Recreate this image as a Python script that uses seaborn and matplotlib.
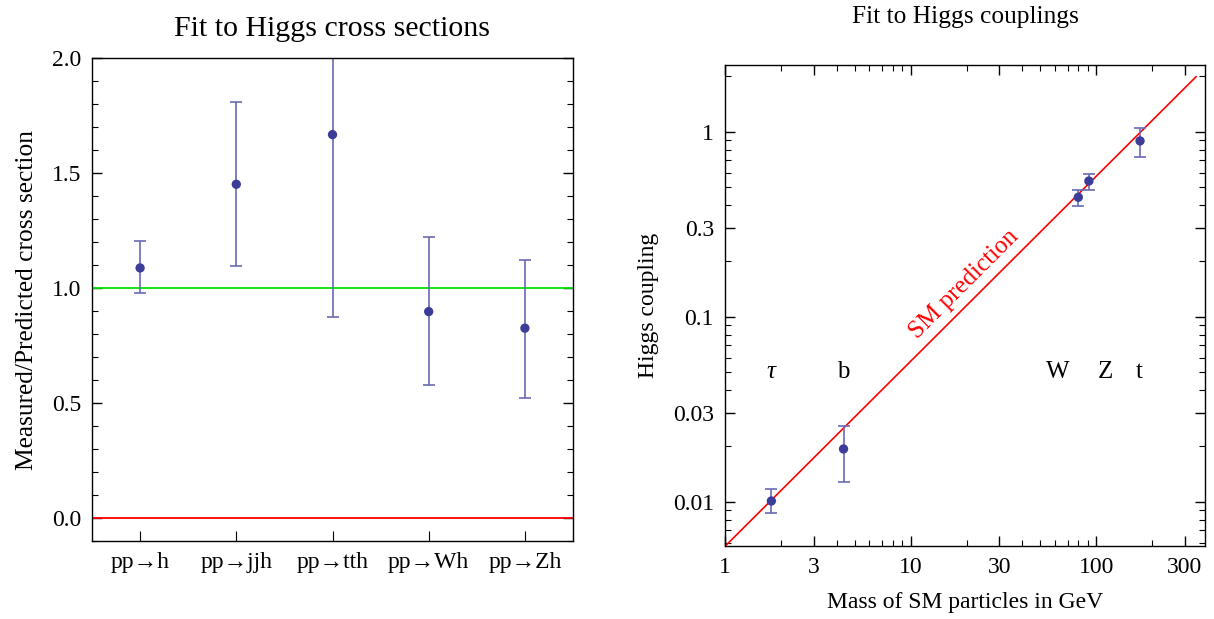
import numpy as np
import pandas as pd
import matplotlib
matplotlib.use("Agg")
import matplotlib.pyplot as plt
import matplotlib.ticker as mticker
import seaborn as sns

# ---------------- data ----------------
channels = ["pp→h", "pp→jjh", "pp→tth", "pp→Wh", "pp→Zh"]
ratio = [1.088, 1.452, 1.668, 0.898, 0.826]
ratio_lo = [0.977, 1.096, 0.874, 0.578, 0.522]
ratio_hi = [1.204, 1.810, 2.460, 1.222, 1.122]

particles = ["τ", "b", "W", "Z", "t"]
mass = [1.777, 4.35, 80.0, 91.2, 172.0]
coupling = [0.0101, 0.0193, 0.442, 0.541, 0.891]
coupling_lo = [0.00866, 0.0128, 0.397, 0.486, 0.730]
coupling_hi = [0.01171, 0.0256, 0.486, 0.593, 1.050]
label_x = [1.777, 4.35, 62.0, 112.0, 170.0]
label_y = 0.05

sm_mass = [1.0, 345.0]
vev_scale = 174.0

x_ticks = [1, 3, 10, 30, 100, 300]
y_ticks = [0.01, 0.03, 0.1, 0.3, 1]

# ---------------- style ----------------
sns.set_theme(style="ticks")
plt.rcParams["font.family"] = ["Liberation Serif", "DejaVu Serif"]
plt.rcParams["mathtext.fontset"] = "stix"
for key in ["text.color", "axes.labelcolor", "xtick.color", "ytick.color",
            "xtick.labelcolor", "ytick.labelcolor"]:
    plt.rcParams[key] = "black"

point_color = "#3c3c99"
bar_color = "#6a6ab5"

fig = plt.figure(figsize=(12.14, 6.19), dpi=100)
ax1 = fig.add_axes([92/1214, 1-541/619, (573-92)/1214, (541-58.3)/619])
ax2 = fig.add_axes([725/1214, 1-546/619, (1205-725)/1214, (546-64.7)/619])

# ---------------- left panel ----------------
df1 = pd.DataFrame({"channel": channels, "ratio": ratio})
ax1.axhline(1.0, color="#00e600", lw=1.3, zorder=1)
ax1.axhline(0.0, color="#ff0000", lw=1.3, zorder=1)
yerr1 = [np.array(ratio) - np.array(ratio_lo), np.array(ratio_hi) - np.array(ratio)]
ax1.errorbar(channels, ratio, yerr=yerr1, fmt="none", ecolor=bar_color,
             elinewidth=1.2, capsize=4.5, capthick=1.2, zorder=2)
sns.scatterplot(data=df1, x="channel", y="ratio", ax=ax1, color=point_color,
                s=45, edgecolor="none", zorder=3)
ax1.set_xlim(-0.5, 4.5)
ax1.set_ylim(-0.1, 2.0)
ax1.set_xlabel("")
ax1.set_ylabel("Measured/Predicted cross section", fontsize=18.3, labelpad=10)
ax1.set_title("Fit to Higgs cross sections", fontsize=21.5, pad=16)
ax1.yaxis.set_major_locator(mticker.MultipleLocator(0.5))
ax1.yaxis.set_minor_locator(mticker.MultipleLocator(0.1))
ax1.yaxis.set_major_formatter(mticker.FormatStrFormatter("%.1f"))
ax1.tick_params(axis="y", which="both", direction="in", left=True, right=True)
ax1.tick_params(axis="y", which="major", length=7, width=1, labelsize=17, pad=8)
ax1.tick_params(axis="y", which="minor", length=4, width=0.8)
ax1.tick_params(axis="x", which="major", direction="in", length=7, width=0.8,
                labelsize=17, bottom=True, top=False, pad=8)
for sp in ax1.spines.values():
    sp.set_linewidth(1.0)
    sp.set_color("black")

# ---------------- right panel ----------------
df2 = pd.DataFrame({"mass": mass, "coupling": coupling})
sm_df = pd.DataFrame({"mass": sm_mass, "coupling": np.array(sm_mass) / vev_scale})
sns.lineplot(data=sm_df, x="mass", y="coupling", ax=ax2, color="#ff0000", lw=1.2, zorder=1)
yerr2 = [np.array(coupling) - np.array(coupling_lo), np.array(coupling_hi) - np.array(coupling)]
ax2.errorbar(mass, coupling, yerr=yerr2, fmt="none", ecolor=bar_color,
             elinewidth=1.2, capsize=4.5, capthick=1.2, zorder=2)
sns.scatterplot(data=df2, x="mass", y="coupling", ax=ax2, color=point_color,
                s=45, edgecolor="none", zorder=3)
ax2.set_xscale("log")
ax2.set_yscale("log")
ax2.set_xlim(1.0, 385.0)
ax2.set_ylim(0.00577, 2.3)
for lbl, lx in zip(particles, label_x):
    ax2.text(lx, label_y, lbl, ha="center", va="center", fontsize=18,
             fontstyle="italic" if lbl == "τ" else "normal")
ax2.text(19.5, 0.15, "SM prediction", color="#ff0000", fontsize=18,
         rotation=45, rotation_mode="anchor", ha="center", va="center")

ax2.xaxis.set_major_locator(mticker.FixedLocator(x_ticks))
ax2.xaxis.set_major_formatter(mticker.FixedFormatter([str(v) for v in x_ticks]))
ax2.xaxis.set_minor_locator(mticker.LogLocator(base=10, subs=np.arange(2, 10)))
ax2.xaxis.set_minor_formatter(mticker.NullFormatter())
ax2.yaxis.set_major_locator(mticker.FixedLocator(y_ticks))
ax2.yaxis.set_major_formatter(mticker.FixedFormatter([f"{v:g}" for v in y_ticks]))
ax2.yaxis.set_minor_locator(mticker.LogLocator(base=10, subs=np.arange(2, 10)))
ax2.yaxis.set_minor_formatter(mticker.NullFormatter())
ax2.tick_params(which="both", direction="in", left=True, right=True, top=True, bottom=True)
ax2.tick_params(which="major", length=7, width=1, labelsize=17)
ax2.tick_params(axis="x", which="major", pad=8)
ax2.tick_params(axis="y", which="major", pad=8)
ax2.tick_params(which="minor", length=4, width=0.8)
ax2.set_xlabel("Mass of SM particles in GeV", fontsize=17, labelpad=10)
ax2.set_ylabel("Higgs coupling", fontsize=17, labelpad=10)
ax2.set_title("Fit to Higgs couplings", fontsize=18.3, pad=30)
for sp in ax2.spines.values():
    sp.set_linewidth(1.0)
    sp.set_color("black")

fig.savefig("out.png", dpi=100)
